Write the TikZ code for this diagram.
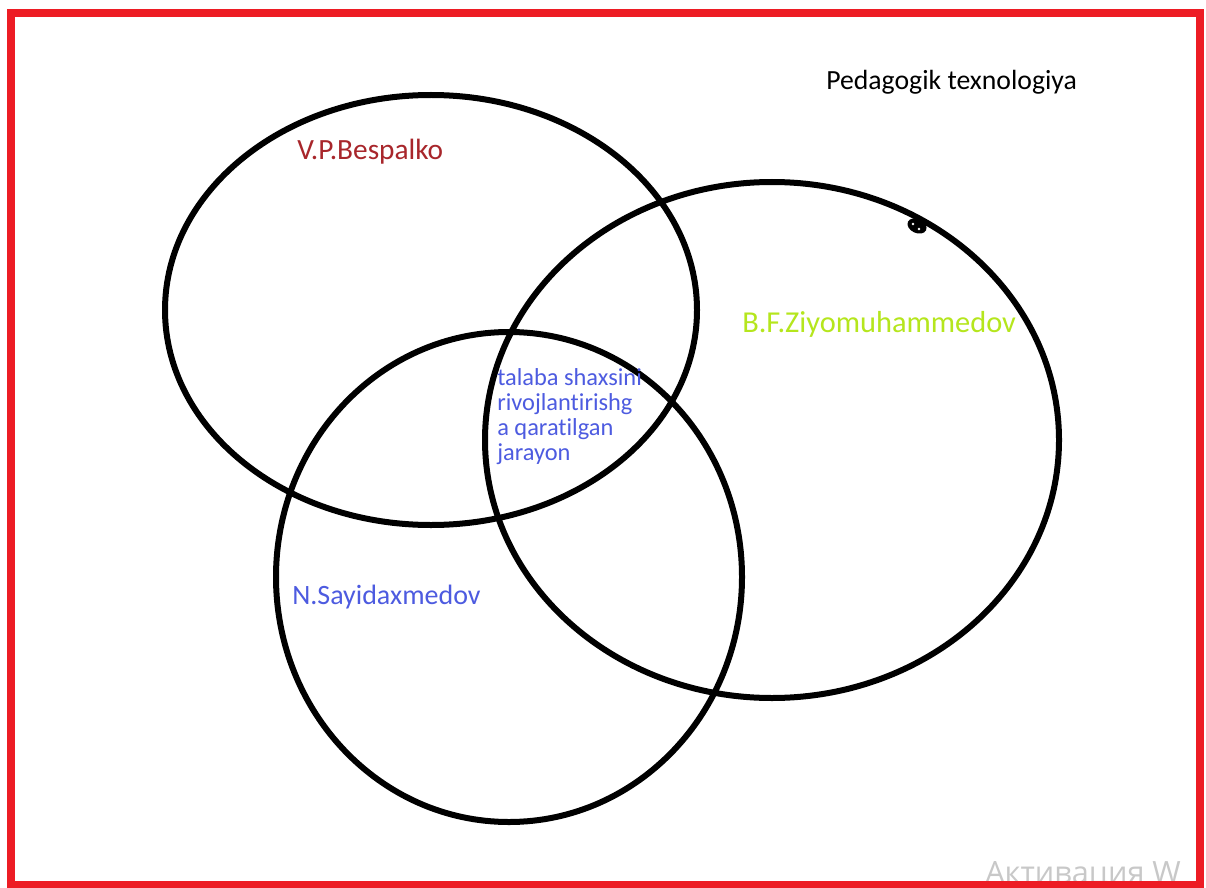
\documentclass[tikz,border=0pt]{standalone}
\usepackage{fontspec}
\setmainfont{Carlito}[Ligatures=NoCommon]
\newfontfamily\wmfont{Open Sans}
\definecolor{framered}{HTML}{ED1C24}
\definecolor{bespred}{HTML}{A8262B}
\definecolor{ziyogreen}{HTML}{B5E61D}
\definecolor{sayblue}{HTML}{4D5BE0}
\definecolor{wmgray}{HTML}{C8C8C8}
\tikzset{
  venn/.style={draw=black, line width=4.5pt},
  lab/.style={inner sep=0pt, anchor=west},
}
\begin{document}
\begin{tikzpicture}[x=0.75pt,y=-0.75pt]
\useasboundingbox (0,0) rectangle (1206,888);
\fill[white] (0,0) rectangle (1206,888);
\node[inner sep=0pt, anchor=base west, text=wmgray, font=\wmfont\fontsize{23}{28}\selectfont] (wm) at (985,883) {Активация W};
\draw[framered, line width=6pt] (11,13) rectangle (1200,885);
\draw[venn] (431,310) ellipse [x radius=266, y radius=215];
\draw[venn] (772,440) ellipse [x radius=287, y radius=258];
\draw[venn] (509,577) ellipse [x radius=233, y radius=245];
\fill[black, rotate around={-25:(917,226)}] (917,226) ellipse [x radius=10, y radius=7];
\fill[white] (913,224) circle [radius=1.3];
\fill[white] (919,229) circle [radius=1.3];
\node[lab, text=black, font=\fontsize{20.8}{24}\selectfont] (title) at (826,82) {Pedagogik texnologiya};
\node[lab, text=bespred, font=\fontsize{22}{26}\selectfont] (besp) at (297,152) {V.P.Bespalko};
\node[lab, text=ziyogreen, font=\fontsize{22.8}{26}\selectfont] (ziyo) at (742,324) {B.F.Ziyomuhammedov};
\node[lab, text=sayblue, font=\fontsize{21}{25}\selectfont] (say) at (292,597) {N.Sayidaxmedov};
\node[lab, text=sayblue, font=\fontsize{18.3}{18.75}\selectfont, align=left, anchor=north west] (core) at (497,368) {talaba shaxsini\\rivojlantirishg\\a qaratilgan\\jarayon};
\end{tikzpicture}
\end{document}
